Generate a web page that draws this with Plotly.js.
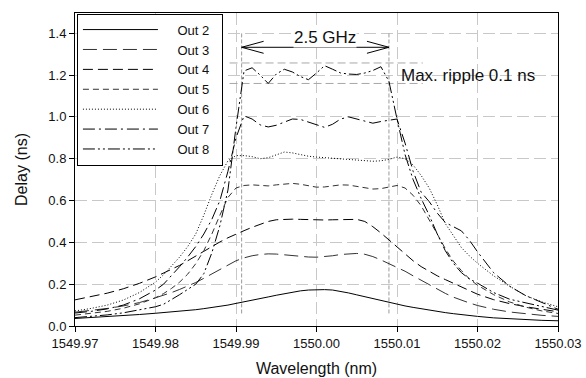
<!DOCTYPE html>
<html>
<head>
<meta charset="utf-8">
<script src="https://cdn.plot.ly/plotly-3.0.1.min.js"></script>
<style>
  html, body { margin: 0; padding: 0; background: #fff; }
  #chart { width: 586px; height: 378px; }
</style>
</head>
<body>
<div id="chart"></div>
<script>
// ---------------- data ----------------
const wavelength = [
  1549.970, 1549.972, 1549.974, 1549.976, 1549.978,
  1549.980, 1549.981, 1549.982, 1549.983, 1549.984, 1549.985, 1549.986, 1549.987, 1549.988, 1549.989,
  1549.990, 1549.991, 1549.992, 1549.993, 1549.994, 1549.995, 1549.996, 1549.997, 1549.998, 1549.999,
  1550.000, 1550.001, 1550.002, 1550.003, 1550.004, 1550.005, 1550.006, 1550.007, 1550.008, 1550.009,
  1550.010, 1550.011, 1550.012, 1550.013, 1550.014, 1550.015, 1550.016, 1550.017, 1550.018, 1550.019,
  1550.020, 1550.022, 1550.024, 1550.026, 1550.028, 1550.030
];

const out2 = [
  0.036, 0.040, 0.045, 0.050, 0.055,
  0.061, 0.064, 0.067, 0.070, 0.074, 0.078, 0.083, 0.088, 0.094, 0.100,
  0.108, 0.115, 0.122, 0.130, 0.139, 0.147, 0.155, 0.162, 0.168, 0.172,
  0.174, 0.174, 0.172, 0.166, 0.158, 0.149, 0.140, 0.130, 0.121, 0.112,
  0.104, 0.096, 0.089, 0.082, 0.076, 0.070, 0.064, 0.059, 0.054, 0.050,
  0.046, 0.039, 0.034, 0.030, 0.027, 0.025
];

const out3 = [
  0.066, 0.074, 0.084, 0.096, 0.112,
  0.135, 0.146, 0.160, 0.175, 0.190, 0.208, 0.228, 0.250, 0.272, 0.293,
  0.312, 0.326, 0.336, 0.342, 0.345, 0.344, 0.340, 0.336, 0.333, 0.330,
  0.329, 0.331, 0.336, 0.342, 0.346, 0.347, 0.343, 0.332, 0.316, 0.298,
  0.280, 0.262, 0.240, 0.218, 0.196, 0.175, 0.156, 0.138, 0.123, 0.110,
  0.098, 0.080, 0.067, 0.058, 0.051, 0.046
];

const out4 = [
  0.125, 0.140, 0.157, 0.178, 0.204,
  0.235, 0.252, 0.270, 0.290, 0.312, 0.335, 0.358, 0.380, 0.402, 0.422,
  0.440, 0.456, 0.472, 0.487, 0.500, 0.508, 0.511, 0.511, 0.510, 0.508,
  0.507, 0.507, 0.508, 0.509, 0.510, 0.510, 0.500, 0.475, 0.445, 0.412,
  0.378, 0.345, 0.312, 0.284, 0.260, 0.240, 0.222, 0.204, 0.186, 0.168,
  0.152, 0.126, 0.107, 0.092, 0.080, 0.068
];

const out5 = [
  0.052, 0.060, 0.070, 0.085, 0.106,
  0.135, 0.155, 0.180, 0.210, 0.248, 0.298, 0.360, 0.440, 0.530, 0.615,
  0.660, 0.672, 0.675, 0.672, 0.670, 0.675, 0.680, 0.682, 0.678, 0.670,
  0.664, 0.665, 0.670, 0.675, 0.674, 0.668, 0.660, 0.655, 0.657, 0.665,
  0.672, 0.660, 0.625, 0.575, 0.510, 0.440, 0.370, 0.310, 0.265, 0.225,
  0.195, 0.150, 0.115, 0.090, 0.072, 0.060
];

const out6 = [
  0.072, 0.084, 0.100, 0.124, 0.160,
  0.210, 0.245, 0.285, 0.330, 0.380, 0.440, 0.530, 0.630, 0.720, 0.790,
  0.815, 0.815, 0.810, 0.800, 0.805, 0.820, 0.832, 0.828, 0.820, 0.812,
  0.808, 0.805, 0.800, 0.797, 0.795, 0.792, 0.790, 0.788, 0.790, 0.797,
  0.808, 0.800, 0.770, 0.720, 0.660, 0.580, 0.490, 0.430, 0.375, 0.335,
  0.300, 0.240, 0.190, 0.145, 0.115, 0.092
];

const out7 = [
  0.062, 0.070, 0.082, 0.100, 0.130,
  0.172, 0.200, 0.240, 0.284, 0.330, 0.380, 0.440, 0.510, 0.600, 0.740,
  0.900, 1.005, 0.990, 0.962, 0.952, 0.960, 0.975, 0.990, 0.988, 0.975,
  0.962, 0.950, 0.965, 0.990, 1.000, 0.990, 0.978, 0.970, 0.978, 0.985,
  0.990, 0.875, 0.740, 0.640, 0.595, 0.540, 0.495, 0.475, 0.455, 0.410,
  0.355, 0.255, 0.190, 0.145, 0.112, 0.080
];

const out8 = [
  0.040, 0.045, 0.053, 0.063, 0.076,
  0.092, 0.104, 0.125, 0.150, 0.175, 0.200, 0.250, 0.350, 0.480, 0.650,
  0.950, 1.220, 1.235, 1.200, 1.160, 1.205, 1.228, 1.215, 1.193, 1.178,
  1.210, 1.245, 1.228, 1.210, 1.205, 1.203, 1.210, 1.222, 1.240, 1.170,
  0.990, 0.820, 0.700, 0.610, 0.530, 0.440, 0.360, 0.300, 0.255, 0.225,
  0.205, 0.160, 0.128, 0.110, 0.092, 0.076
];

const seriesNames = ['Out 2', 'Out 3', 'Out 4', 'Out 5', 'Out 6', 'Out 7', 'Out 8'];
const seriesValues = [out2, out3, out4, out5, out6, out7, out8];

// annotation values
const bandEdges = [1549.9907, 1550.0090];   // 2.5 GHz band edges (nm)
const rippleLevels = [1.160, 1.258];        // ns
const rippleSpan = [1549.9892, 1550.0132];  // nm
const arrowLevel = 1.333;                   // ns
const bandLineRange = [0.06, 1.40];         // ns
const xTickValues = [1549.97, 1549.98, 1549.99, 1550.00, 1550.01, 1550.02, 1550.03];
const yTickValues = [0.0, 0.2, 0.4, 0.6, 0.8, 1.0, 1.2, 1.4];

// ---------------- styles ----------------
const dashStyles = ['solid', '14px,6px', '10px,5px', '6px,4px', '1px,2px',
                    '12px,4px,2px,4px', '12px,3px,2px,3px,2px,3px'];
const lineColors = ['#000', '#333', '#000', '#333', '#000', '#000', '#000'];
const NB = '\u00a0';
const legendPad = (s) => NB.repeat(4) + s + NB.repeat(2);

const traces = seriesNames.map((name, i) => ({
  type: 'scatter',
  mode: 'lines',
  name: legendPad(name),
  x: wavelength,
  y: seriesValues[i],
  line: { color: lineColors[i], width: 1, dash: dashStyles[i] },
  hoverinfo: 'skip'
}));

const gridColor = '#c8c8c8';
const FONT = 'Liberation Sans, Arial, Helvetica, sans-serif';

const shapes = [];
bandEdges.forEach(e => shapes.push({
  type: 'line', xref: 'x', yref: 'y', layer: 'between',
  x0: e, x1: e, y0: bandLineRange[0], y1: bandLineRange[1],
  line: { color: '#9a9a9a', width: 1, dash: '4px,2px' }
}));
rippleLevels.forEach(r => shapes.push({
  type: 'line', xref: 'x', yref: 'y', layer: 'between',
  x0: rippleSpan[0], x1: rippleSpan[1], y0: r, y1: r,
  line: { color: '#a8a8a8', width: 1, dash: '8px,4px' }
}));
shapes.push({
  type: 'line', xref: 'x', yref: 'y',
  x0: bandEdges[0], x1: bandEdges[1], y0: arrowLevel, y1: arrowLevel,
  line: { color: '#000', width: 1 }
});
shapes.push({
  type: 'path', xref: 'x', yref: 'y', xsizemode: 'pixel', ysizemode: 'pixel',
  xanchor: bandEdges[0], yanchor: arrowLevel,
  path: 'M 22,6 L 0,0 L 22,-6',
  line: { color: '#000', width: 1 }
});
shapes.push({
  type: 'path', xref: 'x', yref: 'y', xsizemode: 'pixel', ysizemode: 'pixel',
  xanchor: bandEdges[1], yanchor: arrowLevel,
  path: 'M -22,6 L 0,0 L -22,-6',
  line: { color: '#000', width: 1 }
});

const layout = {
  width: 586, height: 378,
  margin: { l: 75, r: 28, t: 13, b: 52, pad: 0 },
  paper_bgcolor: '#fff', plot_bgcolor: '#fff',
  font: { family: FONT, color: '#000', size: 13 },
  showlegend: true,
  xaxis: {
    range: [1549.97, 1550.03],
    tickmode: 'array', tickvals: xTickValues,
    ticktext: xTickValues.map(v => v.toFixed(2)),
    ticks: 'outside', ticklen: 5, tickcolor: '#000', tickwidth: 1,
    showline: true, linecolor: '#000', linewidth: 1, mirror: true,
    showgrid: true, gridcolor: gridColor, gridwidth: 1, griddash: '12px,5px',
    zeroline: false, automargin: false,
    tickfont: { family: FONT, size: 13, color: '#111' },
    title: { text: 'Wavelength (nm)', font: { family: FONT, size: 16, color: '#111' }, standoff: 13 }
  },
  yaxis: {
    range: [0, 1.497],
    tickmode: 'array', tickvals: yTickValues,
    ticktext: yTickValues.map(v => v.toFixed(1)),
    ticks: 'outside', ticklen: 5, tickcolor: '#000', tickwidth: 1,
    showline: true, linecolor: '#000', linewidth: 1, mirror: true,
    showgrid: true, gridcolor: gridColor, gridwidth: 1, griddash: '12px,5px',
    zeroline: false, automargin: false,
    tickfont: { family: FONT, size: 13, color: '#111' },
    title: { text: 'Delay (ns)', font: { family: FONT, size: 16, color: '#111' }, standoff: 16 }
  },
  legend: {
    x: 0.004, y: 0.998, xanchor: 'left', yanchor: 'top',
    bgcolor: '#fff', bordercolor: '#000', borderwidth: 1,
    font: { family: FONT, size: 13, color: '#111' },
    itemwidth: 75, tracegroupgap: 0
  },
  shapes: shapes,
  annotations: [
    {
      text: '2.5 GHz', xref: 'x', yref: 'y', x: 1550.0011, y: 1.379,
      showarrow: false, bgcolor: '#fff', borderpad: 0,
      font: { family: FONT, size: 17, color: '#111' }
    },
    {
      text: 'Max. ripple 0.1 ns', xref: 'x', yref: 'y', x: 1550.0188, y: 1.200,
      showarrow: false,
      font: { family: FONT, size: 17, color: '#111' }
    }
  ]
};

Plotly.newPlot('chart', traces, layout, { staticPlot: true, displayModeBar: false });
</script>
</body>
</html>
